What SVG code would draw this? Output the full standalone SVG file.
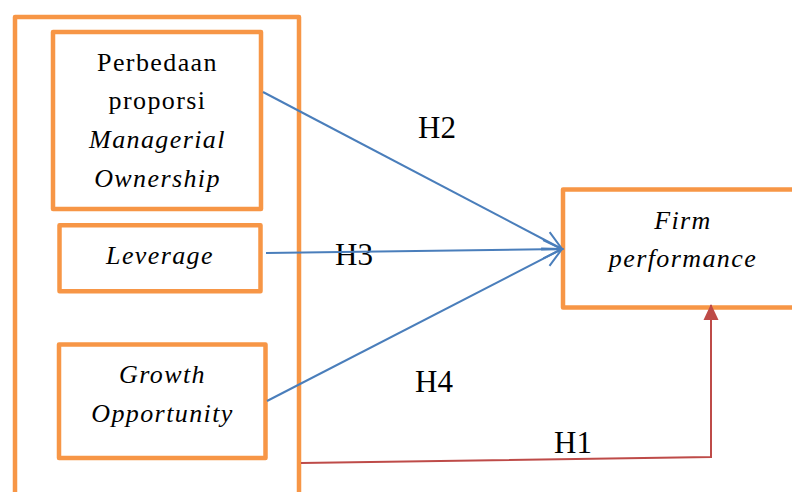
<svg xmlns="http://www.w3.org/2000/svg" width="792" height="492" viewBox="0 0 792 492">
<defs>
<style>
.box{fill:none;stroke:#F79646;stroke-width:4.5;stroke-linejoin:round}
.t{font-family:"Liberation Serif","Times New Roman",serif;font-size:26px;letter-spacing:1.4px;fill:#000;text-anchor:middle}
.i{font-style:italic}
.h{font-family:"Liberation Serif","Times New Roman",serif;font-size:31px;fill:#000}
.blue{fill:none;stroke:#4A7EBB;stroke-width:2;marker-end:url(#open)}
.red{fill:none;stroke:#BE4B48;stroke-width:2;marker-end:url(#tri)}
</style>
<marker id="open" viewBox="0 0 24 24" refX="21" refY="12" markerWidth="24" markerHeight="24" markerUnits="userSpaceOnUse" orient="auto">
<path d="M2.2,2.8 L21,12 L2.2,21.2" fill="none" stroke="#4A7EBB" stroke-width="2"/>
</marker>
<marker id="tri" viewBox="0 0 16 16" refX="15" refY="8" markerWidth="16" markerHeight="16" markerUnits="userSpaceOnUse" orient="auto">
<path d="M0,0.5 L16,8 L0,15.5 Z" fill="#BE4B48"/>
</marker>
</defs>
<g id="outer"><rect class="box" x="15" y="17" width="284" height="490"/></g>
<g id="node-managerial">
<rect class="box" x="53" y="32" width="208" height="177"/>
<text class="t" x="157.5" y="71">Perbedaan</text>
<text class="t" x="157.5" y="108.5">proporsi</text>
<text class="t i" x="157.5" y="148">Managerial</text>
<text class="t i" x="157.5" y="186.5">Ownership</text>
</g>
<g id="node-leverage">
<rect class="box" x="59.5" y="225.3" width="201" height="66"/>
<text class="t i" x="160" y="264">Leverage</text>
</g>
<g id="node-growth">
<rect class="box" x="59" y="344.5" width="206.5" height="113.5"/>
<text class="t i" x="162.5" y="383">Growth</text>
<text class="t i" x="162.5" y="422">Opportunity</text>
</g>
<g id="node-firm">
<rect class="box" x="563" y="189.5" width="232" height="118"/>
<text class="t i" x="683" y="229">Firm</text>
<text class="t i" x="683" y="267">performance</text>
</g>
<g id="labels">
<text class="h" x="418" y="138">H2</text>
<text class="h" x="335" y="265">H3</text>
<text class="h" x="415" y="392">H4</text>
<text class="h" x="554" y="453">H1</text>
</g>
<g id="connectors">
<line class="blue" x1="263" y1="92" x2="562" y2="249"/>
<line class="blue" x1="266" y1="253" x2="562" y2="249"/>
<line class="blue" x1="267" y1="401" x2="562" y2="249"/>
<polyline class="red" points="301,463 711,457 711,305"/>
</g>
</svg>
